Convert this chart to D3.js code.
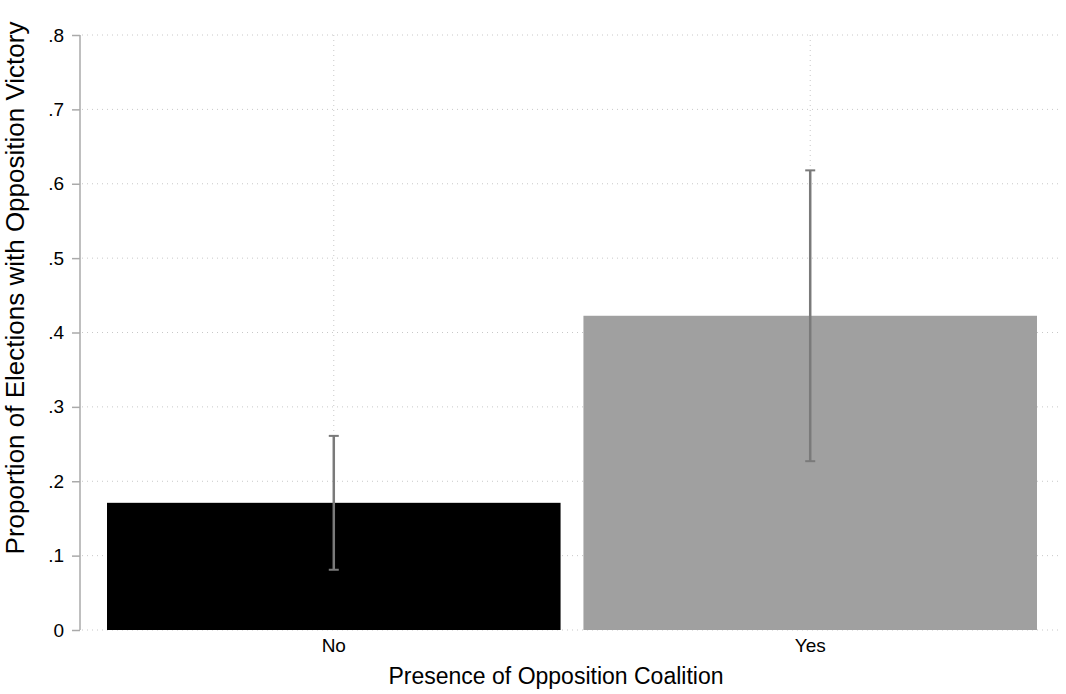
<!DOCTYPE html>
<html>
<head>
<meta charset="utf-8">
<script src="https://cdn.jsdelivr.net/npm/d3@7"></script>
<style>
  body { margin: 0; background: #fff; }
  text { font-family: "Liberation Sans", Arial, Helvetica, sans-serif; fill: #000; }
</style>
</head>
<body>
<div id="chart"></div>
<script>
// DATA
const categories = ["No", "Yes"];
const means = [0.171, 0.4225];
const lowerCI = [0.081, 0.227];
const upperCI = [0.261, 0.618];
const yTicks = [0, 0.1, 0.2, 0.3, 0.4, 0.5, 0.6, 0.7, 0.8];
const barColors = ["#000000", "#a0a0a0"];

const w = 1066;
const h = 694;

// PLOT EDGES
const plotLeft = 80;
const plotRight = 1062;
const plotTop = 35;
const plotBottom = 630;

const svg = d3.select("#chart")
  .append("svg")
  .attr("width", w)
  .attr("height", h);

// SCALES
const yScale = d3.scaleLinear()
  .domain([0, 0.8])
  .range([plotBottom, plotTop]);

const xScale = d3.scaleBand()
  .domain(categories)
  .range([107, 1037])
  .paddingInner(0.048)
  .paddingOuter(0);

const mid = (d) => xScale(d) + xScale.bandwidth() / 2;

// GRIDLINES
svg.append("g")
  .selectAll("line")
  .data(yTicks)
  .enter()
  .append("line")
  .attr("x1", plotLeft + 2)
  .attr("x2", plotRight)
  .attr("y1", (d) => yScale(d))
  .attr("y2", (d) => yScale(d))
  .attr("stroke", "#c8c8c8")
  .attr("stroke-width", 1)
  .attr("stroke-dasharray", "1,4");

svg.append("g")
  .selectAll("line")
  .data(categories)
  .enter()
  .append("line")
  .attr("x1", mid)
  .attr("x2", mid)
  .attr("y1", plotTop)
  .attr("y2", plotBottom)
  .attr("stroke", "#c8c8c8")
  .attr("stroke-width", 1)
  .attr("stroke-dasharray", "1,4");

// BARS
svg.selectAll("rect.bar")
  .data(categories)
  .enter()
  .append("rect")
  .attr("class", "bar")
  .attr("x", (d) => xScale(d))
  .attr("width", xScale.bandwidth())
  .attr("y", (d, i) => yScale(means[i]))
  .attr("height", (d, i) => yScale(0) - yScale(means[i]))
  .attr("fill", (d, i) => barColors[i]);

// ERROR BARS
const errClr = "#7a7a7a";
const capHalf = 5;
const eb = svg.append("g").selectAll("g")
  .data(categories)
  .enter()
  .append("g");

eb.append("line")
  .attr("x1", mid)
  .attr("x2", mid)
  .attr("y1", (d, i) => yScale(lowerCI[i]))
  .attr("y2", (d, i) => yScale(upperCI[i]))
  .attr("stroke", errClr)
  .attr("stroke-width", 2.5);

eb.append("line")
  .attr("x1", (d) => mid(d) - capHalf)
  .attr("x2", (d) => mid(d) + capHalf)
  .attr("y1", (d, i) => yScale(upperCI[i]))
  .attr("y2", (d, i) => yScale(upperCI[i]))
  .attr("stroke", errClr)
  .attr("stroke-width", 2);

eb.append("line")
  .attr("x1", (d) => mid(d) - capHalf)
  .attr("x2", (d) => mid(d) + capHalf)
  .attr("y1", (d, i) => yScale(lowerCI[i]))
  .attr("y2", (d, i) => yScale(lowerCI[i]))
  .attr("stroke", errClr)
  .attr("stroke-width", 2);

// AXES
const yAxis = d3.axisLeft(yScale)
  .tickValues(yTicks)
  .tickSize(8)
  .tickPadding(8)
  .tickFormat((d) => d === 0 ? "0" : d3.format(".1f")(d).replace(/^0/, ""));

const gy = svg.append("g")
  .attr("transform", "translate(" + plotLeft + ",0)")
  .call(yAxis);
gy.select(".domain").attr("stroke", "#aaaaaa").attr("stroke-width", 1.5)
  .attr("d", "M0," + plotTop + "V" + plotBottom);
gy.selectAll(".tick line").attr("stroke", "#aaaaaa").attr("stroke-width", 1.5);
gy.selectAll(".tick text")
  .style("font-size", "19px")
  .style("font-family", "'Liberation Sans', Arial, sans-serif")
  .attr("fill", "#000");

const xAxis = d3.axisBottom(xScale)
  .tickSize(0)
  .tickPadding(9);

const gx = svg.append("g")
  .attr("transform", "translate(0," + plotBottom + ")")
  .call(xAxis);
gx.select(".domain").remove();
gx.selectAll(".tick text")
  .style("font-size", "19px")
  .style("font-family", "'Liberation Sans', Arial, sans-serif")
  .attr("fill", "#000");

// AXIS TITLES
svg.append("text")
  .attr("x", 556)
  .attr("y", 684)
  .attr("text-anchor", "middle")
  .style("font-size", "23px")
  .text("Presence of Opposition Coalition");

svg.append("text")
  .attr("transform", "translate(24," + 288 + ") rotate(-90)")
  .attr("text-anchor", "middle")
  .style("font-size", "26px")
  .text("Proportion of Elections with Opposition Victory");
</script>
</body>
</html>
